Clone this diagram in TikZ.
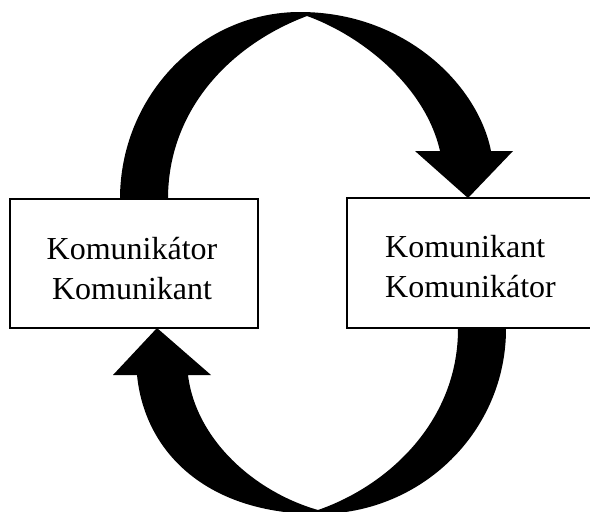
\documentclass[tikz,border=0pt]{standalone}
\usepackage{fontspec}
\setmainfont{Liberation Serif}
\begin{document}
\begin{tikzpicture}[x=1pt,y=-1pt,
  box/.style={draw=black, line width=2.3pt, fill=white, inner sep=0pt},
  lbl/.style={font=\fontsize{32}{38}\selectfont, inner sep=0pt},
  band/.style={fill=black}]
\useasboundingbox (0,0) rectangle (590,512);
% top curved arrow (left box -> right box)
\fill[band] (120,199) .. controls (120,96) and (201,12) .. (300,12)
  .. controls (405,12) and (478,85) .. (491,151)
  -- (513,151) -- (468,198) -- (415,151) -- (440,151)
  .. controls (425,85) and (360,35) .. (307,16)
  .. controls (230,45) and (168,110) .. (168,199) -- cycle;
% bottom curved arrow (right box -> left box)
\fill[band] (506,329) .. controls (506,431) and (422,514) .. (318,514)
  .. controls (210,514) and (145,455) .. (137,375)
  -- (113,375) -- (157,328) -- (211,375) -- (188,375)
  .. controls (196,440) and (255,492) .. (318,510)
  .. controls (390,485) and (458,420) .. (458,329) -- cycle;
% boxes
\node[box, minimum width=248pt, minimum height=129pt] (L) at (134,263.5) {};
\node[box, minimum width=246pt, minimum height=130pt] (R) at (470,263) {};
% texts
\node[lbl, anchor=base] (l1) at (132,259) {Komunikátor};
\node[lbl, anchor=base] (l2) at (132,299) {Komunikant};
\node[lbl, anchor=base west] (r1) at (385,257) {Komunikant};
\node[lbl, anchor=base west] (r2) at (385,297) {Komunikátor};
\end{tikzpicture}
\end{document}
